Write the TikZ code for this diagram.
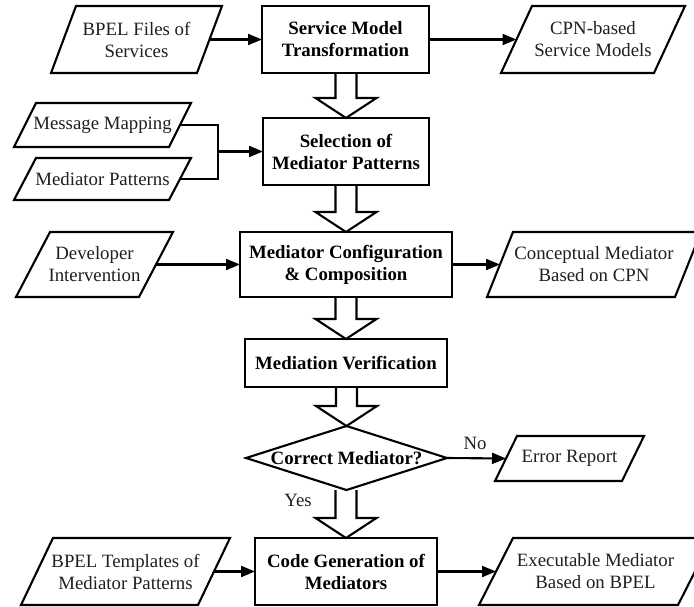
\documentclass[tikz,border=0pt]{standalone}
\usepackage{fontspec}
\setmainfont{Liberation Serif}
\usetikzlibrary{arrows.meta,calc}
\newcommand\mypara[7]{%
  \draw[lw, line join=miter] (#2,#5) -- (#3,#5) -- ({#3-#4},#6) -- ({#2-#4},#6) -- cycle;
  \node[ptext, minimum width={(#3-#2)*1pt}, minimum height={(#6-#5)*1pt}] (#1) at ({(#2+#3-#4)/2},{(#5+#6)/2}) {#7};}
\newcommand\hollowarr[2]{%
  \path (#1.south -| #2.north) coordinate (ha);
  \draw[lw, line join=miter] ($(ha)+(-10.5,0)$) -- ($(#2.north)+(-10.5,-20)$) -- ($(#2.north)+(-30.5,-20)$) -- (#2.north) -- ($(#2.north)+(30.5,-20)$) -- ($(#2.north)+(10.5,-20)$) -- ($(ha)+(10.5,0)$);}
\begin{document}
\begin{tikzpicture}[x=1pt,y=-1pt,
  lw/.style={line width=2.1pt},
  boxst/.style={draw, lw, rectangle, inner sep=0pt, outer sep=0pt, align=center, font=\fontsize{18.8}{22}\selectfont\bfseries},
  ptext/.style={inner sep=0pt, outer sep=0pt, align=center, text=black!88, font=\fontsize{18.8}{22}\selectfont},
  arr/.style={lw, -{Triangle[length=14pt,width=11pt]}}]
\useasboundingbox (0,0) rectangle (694,607);
\clip (0,0) rectangle (694,607);

% process boxes
\node[boxst, minimum width=167pt, minimum height=67pt] (smt) at (345.5,39.5) {Service Model\\Transformation};
\node[boxst, minimum width=166pt, minimum height=67pt] (sel) at (346,151.5) {Selection of\\Mediator Patterns};
\node[boxst, minimum width=212pt, minimum height=65pt] (mcc) at (346,264.5) {Mediator Configuration\\\& Composition};
\node[boxst, minimum width=202pt, minimum height=48pt] (mv) at (346,363) {Mediation Verification};
\node[inner sep=0pt, outer sep=0pt, minimum width=201pt, minimum height=64pt, font=\fontsize{18.8}{22}\selectfont\bfseries] (dia) at (346.5,458) {Correct Mediator?};
\draw[lw, line join=miter] (dia.west) -- (dia.north) -- (dia.east) -- (dia.south) -- cycle;
\node[boxst, minimum width=182pt, minimum height=67pt] (cg) at (346,571.5) {Code Generation of\\Mediators};

% data parallelograms
\mypara{bpel}{76}{222}{25}{6}{73}{BPEL Files of\\Services}
\mypara{cpn}{532}{685}{31}{6}{73}{CPN-based\\Service Models}
\mypara{mm}{36}{191}{22}{103}{147}{Message Mapping}
\mypara{mp}{36}{191}{22}{158}{200}{Mediator Patterns}
\mypara{dev}{50}{173}{34}{232}{297}{Developer\\Intervention}
\mypara{cm}{513}{701}{26}{232}{297}{Conceptual Mediator\\Based on CPN}
\mypara{err}{517}{644}{22}{436}{481}{Error Report}
\mypara{tpl}{53}{230}{32}{538}{605}{BPEL Templates of\\Mediator Patterns}
\mypara{exe}{513}{712}{34}{538}{605}{Executable Mediator\\Based on BPEL}

% connectors
\draw[arr] (bpel.east) -- (smt.west);
\draw[arr] (smt.east) -- (cpn.west);
\coordinate (jn) at (218,151.5);
\draw[lw] (mm.east) -| (jn) |- (mp.east);
\draw[arr] (jn) -- (sel.west);
\draw[arr] (dev.east) -- (mcc.west);
\draw[arr] (mcc.east) -- (cm.west);
\draw[arr] (dia.east) -- (err.west);
\draw[arr] (tpl.east) -- (cg.west);
\draw[arr] (cg.east) -- (exe.west);

% hollow arrows
\hollowarr{smt}{sel}
\hollowarr{sel}{mcc}
\hollowarr{mcc}{mv}
\hollowarr{mv}{dia}
\hollowarr{dia}{cg}

% labels
\node[ptext] (no) at (475,443) {No};
\node[ptext] (yes) at (298,500) {Yes};
\end{tikzpicture}
\end{document}
